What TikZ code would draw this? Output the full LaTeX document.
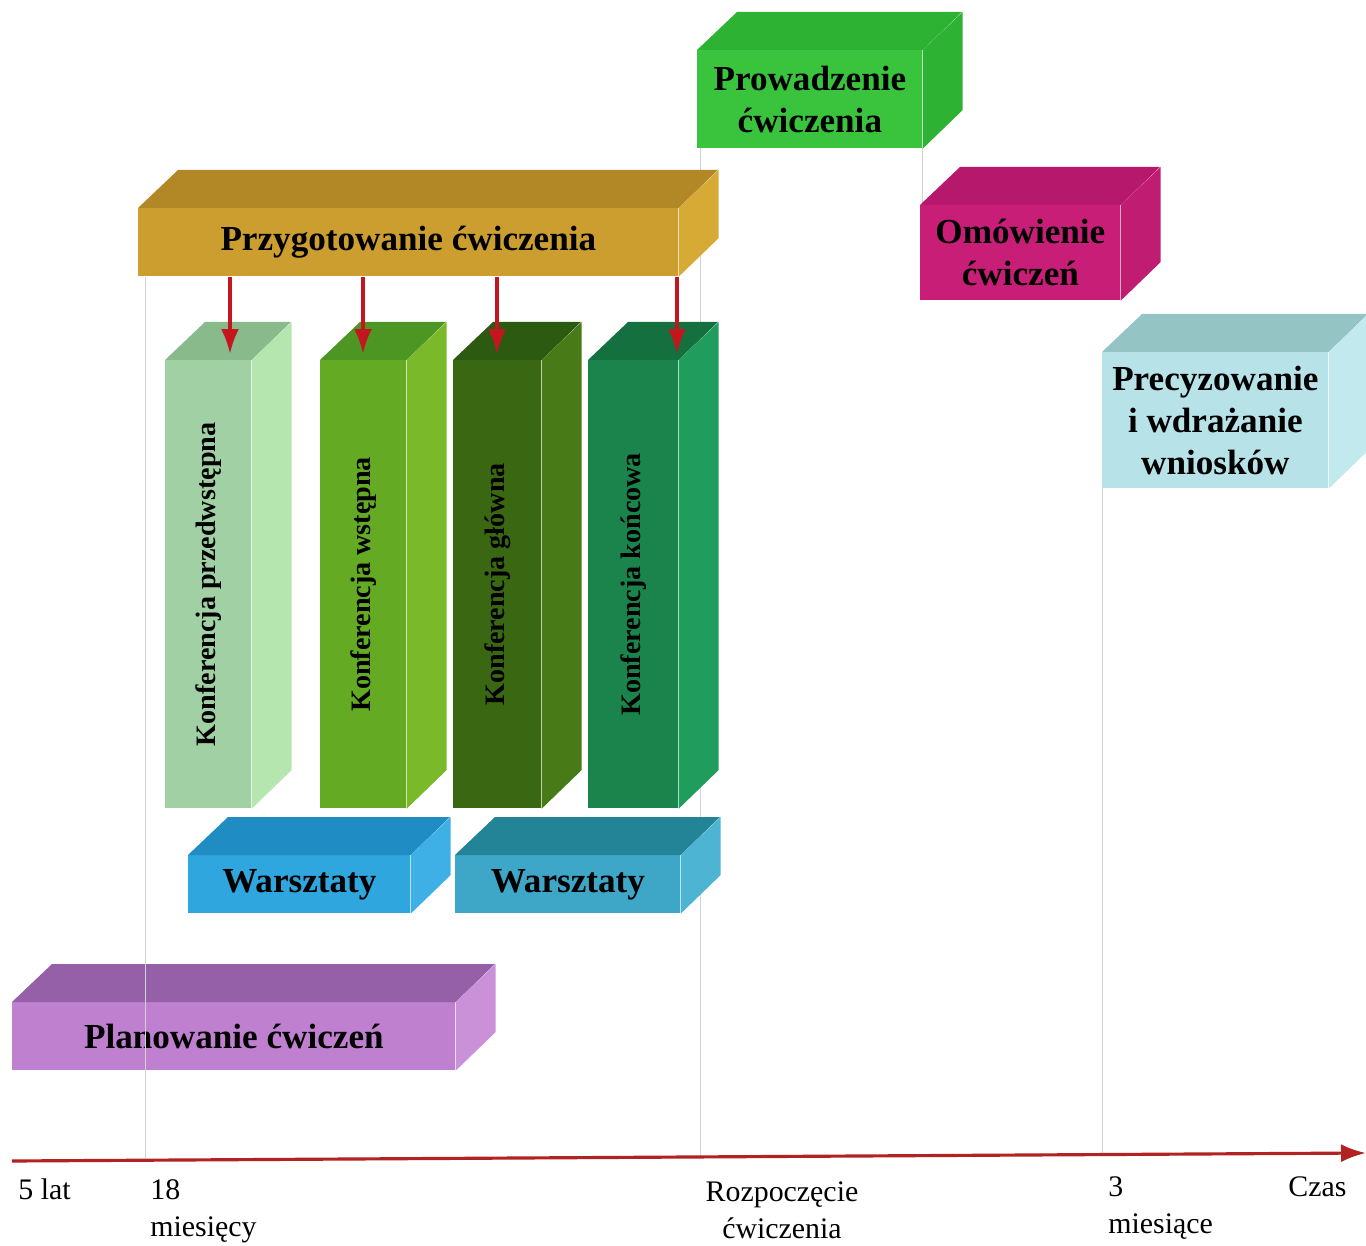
\documentclass[tikz,border=0pt]{standalone}
\usepackage{fontspec}
\setmainfont{Liberation Serif}
\usepackage{graphicx}
\usetikzlibrary{arrows.meta,positioning,calc}
\definecolor{runColor}{RGB}{58,196,62}
\definecolor{runTop}{RGB}{46,178,52}
\definecolor{prepColor}{RGB}{204,158,48}
\definecolor{prepTop}{RGB}{178,136,38}
\definecolor{prepSide}{RGB}{214,170,52}
\definecolor{debColor}{RGB}{200,30,120}
\definecolor{debTop}{RGB}{182,24,108}
\definecolor{debSide}{RGB}{192,28,114}
\definecolor{refColor}{RGB}{182,226,232}
\definecolor{refTop}{RGB}{148,196,196}
\definecolor{refSide}{RGB}{194,234,238}
\definecolor{kOneColor}{RGB}{160,208,164}
\definecolor{kOneTop}{RGB}{136,186,140}
\definecolor{kOneSide}{RGB}{182,230,176}
\definecolor{kTwoColor}{RGB}{100,170,34}
\definecolor{kTwoTop}{RGB}{78,150,36}
\definecolor{kTwoSide}{RGB}{122,186,42}
\definecolor{kThreeColor}{RGB}{58,104,18}
\definecolor{kThreeTop}{RGB}{44,90,16}
\definecolor{kThreeSide}{RGB}{72,122,24}
\definecolor{kFourColor}{RGB}{26,132,76}
\definecolor{kFourTop}{RGB}{20,112,62}
\definecolor{kFourSide}{RGB}{32,156,92}
\definecolor{wsOneColor}{RGB}{48,166,222}
\definecolor{wsOneTop}{RGB}{32,140,196}
\definecolor{wsOneSide}{RGB}{62,176,230}
\definecolor{wsTwoColor}{RGB}{62,166,198}
\definecolor{wsTwoTop}{RGB}{34,132,150}
\definecolor{wsTwoSide}{RGB}{78,180,212}
\definecolor{planColor}{RGB}{192,128,208}
\definecolor{planTop}{RGB}{150,96,168}
\definecolor{planSide}{RGB}{202,144,216}
\definecolor{axisColor}{RGB}{178,34,34}
\definecolor{arrowColor}{RGB}{196,22,30}

\newcommand{\blok}[9]{%
 \node[frontface,fill=#6,minimum width=#4*0.02cm,minimum height=#5*0.02cm] (#1) at (#2,#3) {#9};
 \fill[#7] (#1.north west) -- ++(40,-38) -- ++(#4,0) -- (#1.north east) -- cycle;
 \fill[#8] (#1.north east) -- ++(40,-38) -- ++(0,#5) -- (#1.south east) -- cycle;}

\begin{document}
\begin{tikzpicture}[x=0.02cm,y=-0.02cm,
 frontface/.style={anchor=north west,inner sep=0pt,align=center,font=\fontsize{20}{24}\selectfont\bfseries},
 guide/.style={draw=gray!35,line width=0.5pt},
 arrow/.style={-{Latex[length=0.5cm,width=0.36cm]},draw=arrowColor,line width=2pt},
 timeline/.style={-{Latex[length=0.5cm,width=0.36cm]},draw=axisColor,line width=1.8pt},
 tick/.style={inner sep=0pt,align=left,font=\fontsize{17}{21}\selectfont}]
\useasboundingbox (0,0) rectangle (1366,1246);
\coordinate (axL) at (12,1161);
\coordinate (axR) at (1366,1153);
\coordinate (g1) at (145,1158);
\coordinate (g2) at (700,1157);
\coordinate (g4) at (1102,1155);
\coordinate (g3) at (922,205);
\draw[guide] (700,148) -- (g2);
\draw[guide] (922,148) -- (g3);
\draw[guide] (1102,488) -- (g4);
\blok{run}{697}{50}{225}{98}{runColor}{runTop}{runTop}{Prowadzenie\\ćwiczenia}
\blok{prep}{138}{208}{540}{68}{prepColor}{prepTop}{prepSide}{Przygotowanie ćwiczenia}
\blok{deb}{920}{205}{200}{95}{debColor}{debTop}{debSide}{Omówienie\\ćwiczeń}
\blok{ref}{1102}{352}{226}{136}{refColor}{refTop}{refSide}{Precyzowanie\\i wdrażanie\\wniosków}
\blok{kOne}{165}{360}{86}{448}{kOneColor}{kOneTop}{kOneSide}{\fontsize{16}{19}\selectfont\rotatebox{90}{Konferencja przedwstępna}}
\blok{kTwo}{320}{360}{86}{448}{kTwoColor}{kTwoTop}{kTwoSide}{\fontsize{16}{19}\selectfont\rotatebox{90}{Konferencja wstępna}}
\blok{kThree}{453}{360}{88}{448}{kThreeColor}{kThreeTop}{kThreeSide}{\fontsize{16}{19}\selectfont\rotatebox{90}{Konferencja główna}}
\blok{kFour}{588}{360}{90}{448}{kFourColor}{kFourTop}{kFourSide}{\fontsize{16}{19}\selectfont\rotatebox{90}{Konferencja końcowa}}
\blok{wsOne}{188}{855}{222}{58}{wsOneColor}{wsOneTop}{wsOneSide}{Warsztaty}
\blok{wsTwo}{455}{855}{225}{58}{wsTwoColor}{wsTwoTop}{wsTwoSide}{Warsztaty}
\blok{plan}{12}{1002}{443}{68}{planColor}{planTop}{planSide}{Planowanie ćwiczeń}
\draw[guide] (prep.south -| g1) -- (g1);
\coordinate (a1) at (230,354);
\coordinate (a2) at (363,354);
\coordinate (a3) at (497,354);
\coordinate (a4) at (677,354);
\foreach \i in {1,...,4} \draw[arrow] (prep.south -| a\i) -- (a\i);
\draw[timeline] (axL) -- (axR);
\node[tick,anchor=north west] (t5) at (18,1178) {5 lat};
\node[tick,anchor=north west] (t18) at (150,1179) {18\\miesięcy};
\node[tick,anchor=north,align=center] (tstart) at (782,1181) {Rozpoczęcie\\ćwiczenia};
\node[tick,anchor=north west] (t3) at (1108,1176) {3\\miesiące};
\node[tick,anchor=north west] (tczas) at (1288,1176) {Czas};
\end{tikzpicture}
\end{document}
